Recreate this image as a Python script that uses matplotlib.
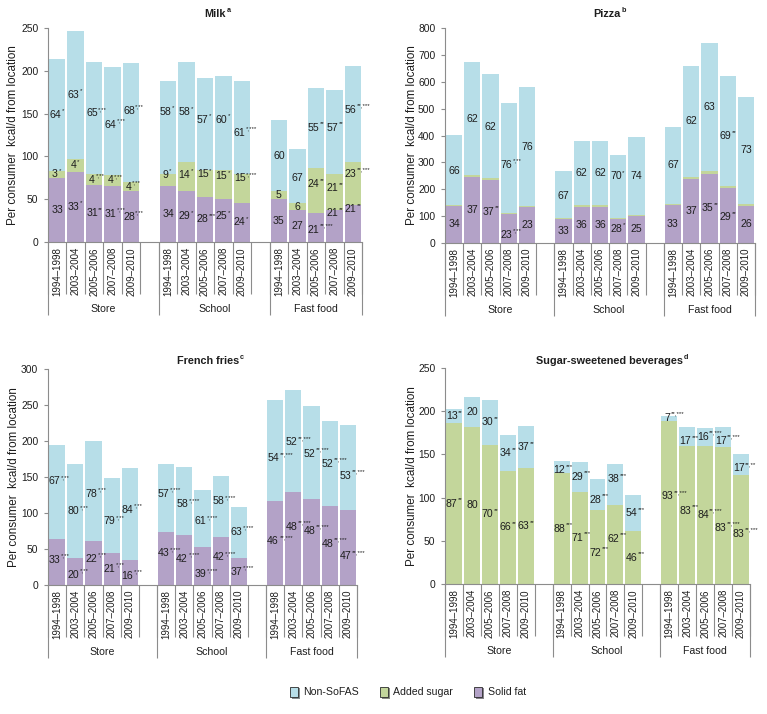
import re
import matplotlib
matplotlib.use("Agg")
import matplotlib.pyplot as plt
from matplotlib.patches import Patch
import matplotlib.transforms as mtransforms
import matplotlib.patheffects as pe

plt.rcParams["font.family"] = ["Liberation Sans Narrow", "Liberation Sans", "DejaVu Sans"]

# ---------------- data ----------------
years = ["1994–1998", "2003–2004", "2005–2006", "2007–2008", "2009–2010"]
locations = ["Store", "School", "Fast food"]
series_names = ["Non-SoFAS", "Added sugar", "Solid fat"]

# Milk (kcal/d), order: Store x5, School x5, Fast food x5
milk_solid = [75, 82, 67, 66, 59, 65, 60, 53, 50, 46, 50, 37, 34, 37, 43]
milk_sugar = [8, 15, 12, 12, 11, 15, 33, 31, 34, 33, 9, 8, 53, 42, 50]
milk_non = [131, 150, 131, 127, 139, 108, 117, 108, 110, 109, 84, 64, 93, 99, 113]
milk_solid_lbl = ["33", "33*", "31**", "31*,**", "28*,**", "34", "29*", "28***", "25*", "24*",
                  "35", "27", "21**,***", "21**", "21**"]
milk_sugar_lbl = ["3*", "4*", "4*,**", "4*,**", "4*,**", "9*", "14*", "15*", "15*", "15*,***",
                  "5", "6", "24**", "21**", "23**,***"]
milk_non_lbl = ["64*", "63*", "65*,**", "64*,**", "68*,**", "58*", "58*", "57*", "60*", "61*,***",
                "60", "67", "55**", "57**", "56**,***"]

# Pizza
pizza_solid = [139, 246, 234, 107, 134, 90, 134, 133, 89, 102, 143, 239, 257, 204, 139]
pizza_sugar = [4, 8, 8, 6, 3, 4, 8, 8, 5, 4, 3, 8, 12, 7, 6]
pizza_non = [259, 418, 386, 407, 443, 173, 239, 238, 233, 289, 287, 411, 475, 411, 399]
pizza_solid_lbl = ["34", "37", "37**", "23*,**", "23", "33", "36", "36", "28*", "25",
                   "33", "37", "35**", "29**", "26"]
pizza_sugar_lbl = [None] * 15
pizza_non_lbl = ["66", "62", "62", "76*,**", "76", "67", "62", "62", "70*", "74",
                 "67", "62", "63", "69**", "73"]

# French fries
fries_solid = [64, 37, 61, 44, 35, 74, 69, 53, 66, 37, 117, 129, 120, 110, 104]
fries_sugar = [0] * 15
fries_non = [130, 131, 139, 105, 128, 94, 95, 79, 86, 71, 140, 142, 128, 118, 118]
fries_solid_lbl = ["33*,**", "20*,**", "22*,**", "21*,**", "16*,**",
                   "43*,***", "42*,***", "39*,***", "42*,***", "37*,***",
                   "46**,***", "48**,***", "48**,***", "48**,***", "47**,***"]
fries_sugar_lbl = [None] * 15
fries_non_lbl = ["67*,**", "80*,**", "78*,**", "79*,**", "84*,**",
                 "57*,***", "58*,***", "61*,***", "58*,***", "63*,***",
                 "54**,***", "52**,***", "52**,***", "52**,***", "53**,***"]

# Sugar-sweetened beverages
ssb_solid = [0] * 15
ssb_sugar = [186, 182, 161, 131, 134, 128, 107, 86, 91, 61, 189, 160, 160, 159, 126]
ssb_non = [16, 34, 52, 41, 49, 14, 34, 35, 48, 42, 6, 22, 21, 23, 24]
ssb_solid_lbl = [None] * 15
ssb_sugar_lbl = ["87**", "80", "70**", "66**", "63**", "88***", "71***", "72***", "62***", "46***",
                 "93**,***", "83***", "84**,***", "83**,***", "83**,***"]
ssb_non_lbl = ["13**", "20", "30**", "34**", "37**", "12***", "29***", "28***", "38***", "54***",
               "7**,***", "17***", "16**,***", "17**,***", "17**,**"]

panel_titles = ["Milk", "Pizza", "French fries", "Sugar-sweetened beverages"]
panel_notes = ["a", "b", "c", "d"]
panel_yticks = [list(range(0, 251, 50)), list(range(0, 801, 100)),
                list(range(0, 301, 50)), list(range(0, 251, 50))]

# ---------------- styling / layout ----------------
W, H, DPI = 767, 714, 100
C_NON, C_SUGAR, C_SOLID = "#B7DEE8", "#C3D69B", "#B3A2C7"
AX_COL = "#8C8C8C"
TXT = "#1E1E1E"

# axes rectangles in pixels: left, top, right, bottom
rects = [(48, 28, 362, 242), (445, 28, 755, 243), (48, 369, 357, 585), (445, 368, 750, 584)]
title_pos = [(215, 14), (607, 14), (208, 361), (609, 361)]
ylabel_x = [13, 412, 14, 412]

# label nudges (layout only, in axis units) to follow the reference's placement
Z = [0] * 15
label_nudge = [
    ([0, 0, 0, 0, 0, 0, 0, 0, 5, 0, 0, 0, -2.5, 15, 17],
     [0, 0, 0, 0, 0, 6, 2, 11, 10, 12, 0, 0, 7, 5, 12],
     [0, 0, 6, -5, 14, 18, 0, 5, 4, -6, 0, -2, 0, 5, 5]),
    ([0, 0, 0, -22, 0, 0, 0, 0, 8.5, 0, 0, 0, 0, -6, 0],
     Z,
     [-6, 0, -5, -26, 0, -4, 0, 0, 38, 0, 0, 0, 0, -20, 0]),
    ([3, -4, 6, 0, -4.5, 7, 1.5, -11.5, 5.5, 0, 2, 16.5, 15.6, 2, -12],
     Z,
     [15, 0, -4, -8, 5, 5.6, -4.5, -4, 7, 1.5, -11, -2, -2, -1, -11]),
    (Z,
     [0, 0, 0, 0, 0, 0, 0, -7, 7, 0, 7, 5, 0, -14.5, -5],
     [0, 0, 0, 0, 0, -3, 0, -6, 6, 0, 0, -6, 0, -5, -4]),
]

fig = plt.figure(figsize=(W / DPI, H / DPI), dpi=DPI)

panels = [
    (milk_solid, milk_sugar, milk_non, milk_solid_lbl, milk_sugar_lbl, milk_non_lbl),
    (pizza_solid, pizza_sugar, pizza_non, pizza_solid_lbl, pizza_sugar_lbl, pizza_non_lbl),
    (fries_solid, fries_sugar, fries_non, fries_solid_lbl, fries_sugar_lbl, fries_non_lbl),
    (ssb_solid, ssb_sugar, ssb_non, ssb_solid_lbl, ssb_sugar_lbl, ssb_non_lbl),
]

xpos = [g * 6 + i for g in range(len(locations)) for i in range(len(years))]
FS_LBL = 7.6
FS_STAR = 4.4


def put_label(ax, x, y, text):
    m = re.match(r"(\d+)(.*)", text)
    num, stars = m.group(1), m.group(2)
    dx = -1.6 if stars else 0
    t = ax.annotate(num, (x, y), xytext=(dx, 0), textcoords="offset points",
                    ha="center", va="center", fontsize=FS_LBL, color=TXT, zorder=5)
    if stars:
        ax.annotate(stars, xy=(1, 1), xycoords=t, xytext=(0.4, -0.8), textcoords="offset points",
                    ha="left", va="center", fontsize=FS_STAR, color=TXT, zorder=5)


for k, (solid, sugar, non, lsol, lsug, lnon) in enumerate(panels):
    l, t, r, b = rects[k]
    ax = fig.add_axes([l / W, 1 - b / H, (r - l) / W, (b - t) / H])
    axh = b - t
    bw = 0.89
    ax.bar(xpos, solid, width=bw, color=C_SOLID, edgecolor="none", zorder=2)
    bot2 = [a for a in solid]
    ax.bar(xpos, sugar, width=bw, bottom=bot2, color=C_SUGAR, edgecolor="none", zorder=2)
    bot3 = [a + s for a, s in zip(solid, sugar)]
    ax.bar(xpos, non, width=bw, bottom=bot3, color=C_NON, edgecolor="none", zorder=2)

    nd_sol, nd_sug, nd_non = label_nudge[k]
    for i, x in enumerate(xpos):
        if lsol[i]:
            put_label(ax, x, solid[i] / 2 + nd_sol[i], lsol[i])
        if lsug[i]:
            put_label(ax, x, solid[i] + sugar[i] / 2 + nd_sug[i], lsug[i])
        if lnon[i]:
            put_label(ax, x, solid[i] + sugar[i] + non[i] / 2 + nd_non[i], lnon[i])

    yt = panel_yticks[k]
    ax.set_ylim(0, yt[-1])
    ax.set_xlim(-0.5, 16.5)
    ax.set_yticks(yt)
    ax.set_yticklabels([str(v) for v in yt], fontsize=7.4, color=TXT)
    ax.set_xticks([])
    for s in ["top", "right"]:
        ax.spines[s].set_visible(False)
    for s in ["left", "bottom"]:
        ax.spines[s].set_color(AX_COL)
        ax.spines[s].set_linewidth(0.8)
    ax.tick_params(axis="y", direction="out", length=3, width=0.8, color=AX_COL, pad=4)
    ax.set_facecolor("none")

    # category axis (years + locations)
    trans = mtransforms.blended_transform_factory(ax.transData, ax.transAxes)
    small = -52 / axh
    long_ = -73 / axh
    for g in range(len(locations)):
        for i in range(len(years) + 1):
            xe = g * 6 + i - 0.5
            ax.plot([xe, xe], [0, small], transform=trans, color=AX_COL, lw=0.8,
                    clip_on=False, solid_capstyle="butt")
    for xe in [-0.5, 5.5, 11.5, 16.5]:
        ax.plot([xe, xe], [0, long_], transform=trans, color=AX_COL, lw=0.8,
                clip_on=False, solid_capstyle="butt")
    for x, yr in zip(xpos, years * 3):
        ax.text(x, -5 / axh, yr, transform=trans, rotation=90, ha="center", va="top",
                fontsize=7.0, color=TXT)
    for g, name in enumerate(locations):
        lo = g * 6 - 0.5
        hi = min(g * 6 + 5.5, 16.5)
        ax.text((lo + hi) / 2, -67 / axh, name, transform=trans, ha="center", va="center",
                fontsize=7.6, color=TXT)

    # title with superscript note
    tx, ty = title_pos[k]
    tt = fig.text(tx / W, 1 - ty / H, panel_titles[k], ha="center", va="center",
                  fontsize=7.8, fontweight="bold", color=TXT)
    ax.annotate(panel_notes[k], xy=(1, 1), xycoords=tt, xytext=(0.6, -1.0),
                textcoords="offset points", ha="left", va="center", fontsize=5.2,
                fontweight="bold", color=TXT, annotation_clip=False)

    fig.text(ylabel_x[k] / W, 1 - ((t + b) / 2) / H, "Per consumer  kcal/d from location",
             rotation=90, ha="center", va="center", fontsize=8.4, color=TXT)

# legend
handles = [Patch(facecolor=C_NON, edgecolor="#2B2B2B", linewidth=0.6, label=series_names[0]),
           Patch(facecolor=C_SUGAR, edgecolor="#2B2B2B", linewidth=0.6, label=series_names[1]),
           Patch(facecolor=C_SOLID, edgecolor="#2B2B2B", linewidth=0.6, label=series_names[2])]
leg = fig.legend(handles=handles, loc="center", bbox_to_anchor=(408 / W, 1 - 692 / H), ncol=3,
                 frameon=False, fontsize=7.6, handlelength=0.75, handleheight=1.15,
                 handletextpad=0.5, columnspacing=2.0)
for h in leg.legend_handles:
    h.set_path_effects([pe.SimplePatchShadow(offset=(1.2, -1.2), alpha=0.6), pe.Normal()])
for txt in leg.get_texts():
    txt.set_color(TXT)

fig.savefig("out.png", dpi=DPI, facecolor="white")
